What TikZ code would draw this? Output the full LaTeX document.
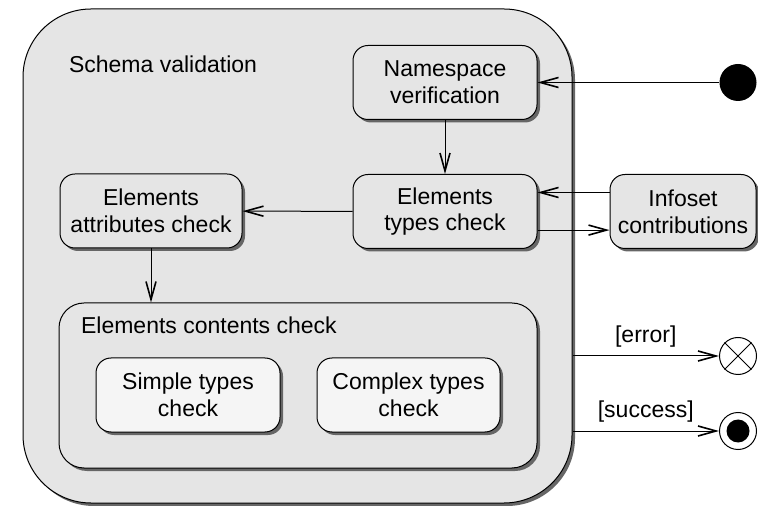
\documentclass[tikz,border=0pt]{standalone}
\usepackage{fontspec}
\setmainfont{Liberation Sans}
\usetikzlibrary{arrows.meta,shadows}

\tikzset{
	shade/.style={drop shadow={shadow xshift=1.5pt, shadow yshift=-1.5pt, fill=black!60, opacity=1}},
	region/.style={draw=black, line width=0.5pt, fill=gray!20, shade, inner sep=0pt},
	activity/.style={draw=black, line width=0.5pt, fill=gray!20, shade, rounded corners=7.5pt, minimum width=92pt, minimum height=37pt, align=center, inner sep=1pt},
	subactivity/.style={activity, fill=gray!8},
	arr/.style={line width=0.5pt, -{Straight Barb[length=9pt, width=5pt, line width=0.8pt]}},
	dot/.style={circle, fill=black, inner sep=0pt}
}

\begin{document}
\begin{tikzpicture}[x=0.5pt, y=-0.5pt, font=\fontsize{11.5}{13.3}\selectfont]
				\useasboundingbox (0,0) rectangle (758,506);
				
				% containers
				\node[region, rounded corners=34pt, minimum width=274.5pt, minimum height=247pt] (schema) at (297.5,256) {};
				\node[anchor=west] (schemalbl) at (62,64) {Schema validation};
				\node[region, rounded corners=12.5pt, minimum width=239pt, minimum height=82.5pt] (contents) at (298,385.5) {};
				\node[anchor=west] (contentslbl) at (74,325) {Elements contents check};
				
				% actions
				\node[activity] (ns) at (445,82.5) {Namespace\\verification};
				\node[activity] (types) at (445,211.5) {Elements\\types check};
				\node[activity, minimum width=91pt] (attr) at (151,211) {Elements\\attributes check};
				\node[activity, minimum width=73pt] (info) at (683,211.5) {Infoset\\contributions};
				\node[subactivity] (simple) at (188,395) {Simple types\\check};
				\node[subactivity, minimum width=91.5pt] (complex) at (408.5,395) {Complex types\\check};
				
				% start / end
				\node[dot, minimum size=18.5pt] (init) at (738,82.5) {};
				\node[circle, draw, fill=white, line width=0.5pt, minimum size=18.5pt, inner sep=0pt] (error) at (738,356) {};
				\draw[line width=0.5pt] (error.45) -- (error.225) (error.135) -- (error.315);
				\node[circle, draw, fill=white, line width=0.5pt, minimum size=18.5pt, inner sep=0pt] (success) at (738,431) {};
				\node[dot, minimum size=11.5pt] (successdot) at (success) {};
				
				% flows
				\draw[arr] (init) -- (ns);
				\draw[arr] (ns) -- (types);
				\draw[arr] (types) -- (attr);
				\draw[arr] ([yshift=9.5pt]info.west) -- ([yshift=9.5pt]types.east);
				\draw[arr] ([yshift=-9.3pt]types.east) -- ([yshift=-9.3pt]info.west);
				\draw[arr] (attr.south) -- (attr.south |- contents.north);
				\draw[arr] (schema.east |- error) -- node[above=1pt] (errlbl) {[error]} (error);
				\draw[arr] (schema.east |- success) -- node[above=1pt] (sucllbl) {[success]} (success);
			\end{tikzpicture}
\end{document}
